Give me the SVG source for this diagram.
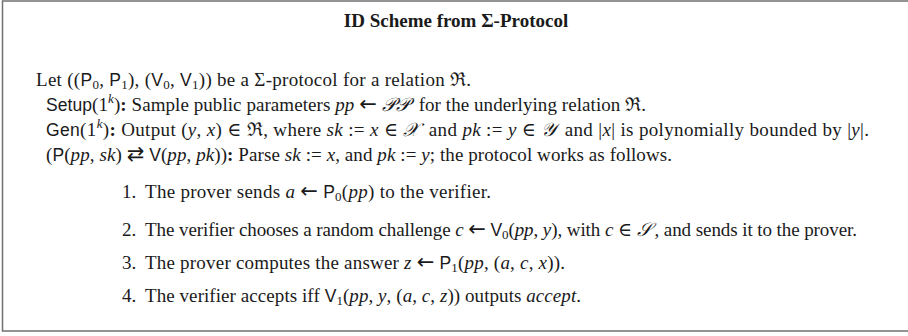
<svg xmlns="http://www.w3.org/2000/svg" width="908" height="336" viewBox="0 0 908 336">
<style>
.t{font-family:"Liberation Serif","DejaVu Serif",serif;font-size:19px;fill:#1a1a1a}
.ttl{font-family:"Liberation Serif","DejaVu Serif",serif;font-size:19px;font-weight:bold;fill:#1a1a1a}
.i{font-style:italic}
.sf{font-family:"Liberation Sans","DejaVu Sans",sans-serif;font-size:17.5px;font-style:normal}
.b{font-weight:bold}
.sub{font-size:13px}
.ar{font-family:"DejaVu Sans",sans-serif;font-size:21px;font-style:normal}
.cal{font-family:"DejaVu Serif","Noto Sans",serif;font-style:italic}
</style>
<rect x="2.5" y="1" width="910" height="330" fill="#fff" stroke="#707070" stroke-width="1.5"/>
<g id="title"><text class="ttl" x="456" y="27" text-anchor="middle">ID Scheme from Σ-Protocol</text></g>
<g id="body">
<text class="t" x="36" y="86" textLength="435" lengthAdjust="spacing">Let ((<tspan class="sf">P</tspan><tspan class="sub" dy="3">0</tspan><tspan dy="-3">, </tspan><tspan class="sf">P</tspan><tspan class="sub" dy="3">1</tspan><tspan dy="-3">), (</tspan><tspan class="sf">V</tspan><tspan class="sub" dy="3">0</tspan><tspan dy="-3">, </tspan><tspan class="sf">V</tspan><tspan class="sub" dy="3">1</tspan><tspan dy="-3">)) be a Σ-protocol for a relation ℜ.</tspan></text>
<text class="t" x="46" y="111" textLength="600" lengthAdjust="spacing"><tspan class="sf">Setup</tspan>(1<tspan class="sub i" dy="-8">k</tspan><tspan dy="8">)</tspan><tspan class="b">:</tspan> Sample public parameters <tspan class="i">pp</tspan> <tspan class="ar">←</tspan> <tspan class="cal">𝒫𝒫</tspan><tspan dx="4"> for the underlying relation ℜ.</tspan></text>
<text class="t" x="46" y="136" textLength="823" lengthAdjust="spacing"><tspan class="sf">Gen</tspan>(1<tspan class="sub i" dy="-8">k</tspan><tspan dy="8">)</tspan><tspan class="b">:</tspan> Output (<tspan class="i">y</tspan>, <tspan class="i">x</tspan>) ∈ ℜ, where <tspan class="i">sk</tspan> := <tspan class="i">x</tspan> ∈ <tspan class="cal">𝒳</tspan><tspan dx="4"> and </tspan><tspan class="i">pk</tspan> := <tspan class="i">y</tspan> ∈ <tspan class="cal">𝒴</tspan><tspan dx="3"> and |</tspan><tspan class="i">x</tspan>| is polynomially bounded by |<tspan class="i">y</tspan>|.</text>
<text class="t" x="46" y="161" textLength="626" lengthAdjust="spacing">(<tspan class="sf">P</tspan>(<tspan class="i">pp</tspan>, <tspan class="i">sk</tspan>) <tspan class="ar">⇄</tspan> <tspan class="sf">V</tspan>(<tspan class="i">pp</tspan>, <tspan class="i">pk</tspan>))<tspan class="b">:</tspan> Parse <tspan class="i">sk</tspan> := <tspan class="i">x</tspan>, and <tspan class="i">pk</tspan> := <tspan class="i">y</tspan>; the protocol works as follows.</text>
<text class="t" x="122" y="198">1.</text>
<text class="t" x="145" y="198" textLength="346" lengthAdjust="spacing">The prover sends <tspan class="i">a</tspan> <tspan class="ar">←</tspan> <tspan class="sf">P</tspan><tspan class="sub" dy="3">0</tspan><tspan dy="-3">(</tspan><tspan class="i">pp</tspan>) to the verifier.</text>
<text class="t" x="122" y="236">2.</text>
<text class="t" x="145" y="236" textLength="712" lengthAdjust="spacing">The verifier chooses a random challenge <tspan class="i">c</tspan> <tspan class="ar">←</tspan> <tspan class="sf">V</tspan><tspan class="sub" dy="3">0</tspan><tspan dy="-3">(</tspan><tspan class="i">pp</tspan>, <tspan class="i">y</tspan>), with <tspan class="i">c</tspan> ∈ <tspan class="cal">𝒮</tspan><tspan dx="3">, and sends it to the prover.</tspan></text>
<text class="t" x="122" y="269">3.</text>
<text class="t" x="145" y="269" textLength="420" lengthAdjust="spacing">The prover computes the answer <tspan class="i">z</tspan> <tspan class="ar">←</tspan> <tspan class="sf">P</tspan><tspan class="sub" dy="3">1</tspan><tspan dy="-3">(</tspan><tspan class="i">pp</tspan>, (<tspan class="i">a</tspan>, <tspan class="i">c</tspan>, <tspan class="i">x</tspan>)).</text>
<text class="t" x="122" y="302">4.</text>
<text class="t" x="145" y="302" textLength="436" lengthAdjust="spacing">The verifier accepts iff <tspan class="sf">V</tspan><tspan class="sub" dy="3">1</tspan><tspan dy="-3">(</tspan><tspan class="i">pp</tspan>, <tspan class="i">y</tspan>, (<tspan class="i">a</tspan>, <tspan class="i">c</tspan>, <tspan class="i">z</tspan>)) outputs <tspan class="i">accept</tspan>.</text>
</g>
</svg>
